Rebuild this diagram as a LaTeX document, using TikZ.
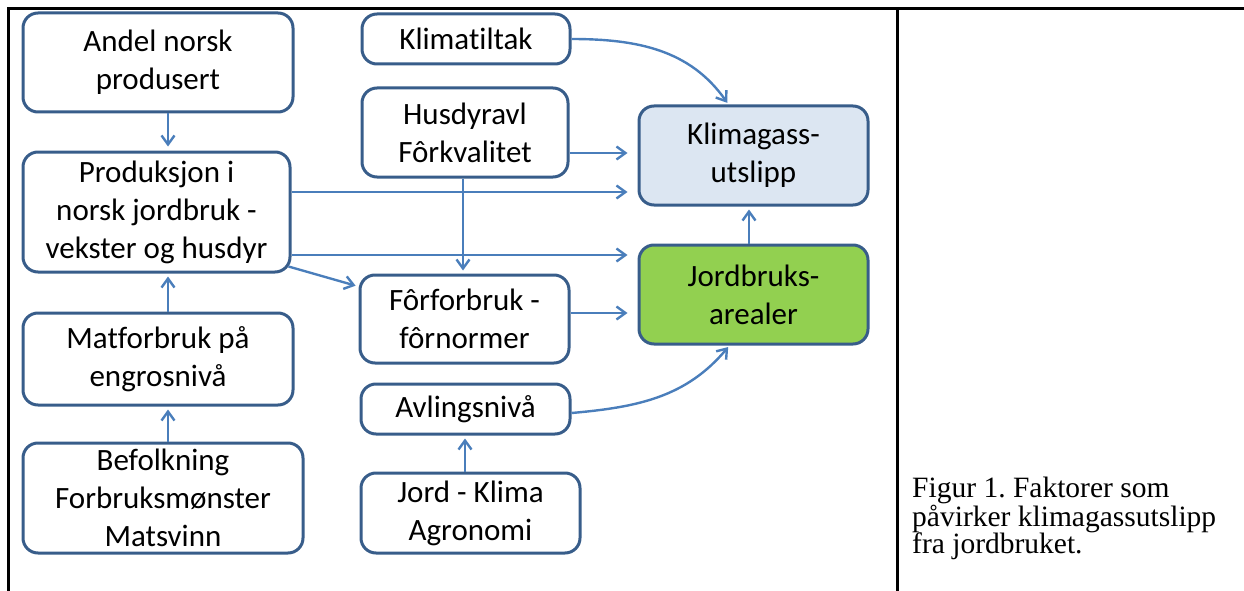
\documentclass[tikz,border=0pt]{standalone}
\usepackage{fontspec}
\setmainfont{Carlito}[Ligatures={NoCommon}]
\newfontfamily\capfont{Liberation Serif}
\usetikzlibrary{arrows.meta}
\definecolor{boxline}{HTML}{385D8A}
\definecolor{arrowc}{HTML}{4A7EBB}
\definecolor{ksfill}{HTML}{DCE6F2}
\definecolor{jbfill}{HTML}{92D050}
\frenchspacing
\begin{document}
\begin{tikzpicture}[x=1pt,y=-1pt,
  box/.style={draw=boxline, line width=3pt, rounded corners=15pt, align=center,
    inner sep=0pt, font=\fontsize{31}{38}\selectfont, text=black},
  conn/.style={draw=arrowc, line width=2.4pt, -{Straight Barb[length=9pt,width=13pt]}},
  frameline/.style={line width=3pt, black}]
\useasboundingbox (0,0) rectangle (1244,591);
\draw[frameline] (8,591) -- (8,9) -- (1244,9);
\draw[frameline] (897,9) -- (897,591);

\node[box, minimum width=270pt, minimum height=99pt] (an) at (158,62.5) {Andel norsk\\produsert};
\node[box, minimum width=267pt, minimum height=120pt] (pr) at (156.5,212) {Produksjon i\\norsk jordbruk -\\vekster og husdyr};
\node[box, minimum width=270pt, minimum height=92pt] (mf) at (158,359) {Matforbruk på\\engrosnivå};
\node[box, minimum width=280pt, minimum height=110pt] (bf) at (163,498) {Befolkning\\Forbruksmønster\\Matsvinn};
\node[box, minimum width=208pt, minimum height=50pt] (kt) at (466,39) {Klimatiltak};
\node[box, minimum width=206pt, minimum height=89pt] (hv) at (465,132.5) {Husdyravl\\Fôrkvalitet};
\node[box, minimum width=209pt, minimum height=88pt] (ff) at (464.5,319) {Fôrforbruk -\\fôrnormer};
\node[box, minimum width=209pt, minimum height=50pt] (av) at (465.5,409) {Avlingsnivå};
\node[box, minimum width=219pt, minimum height=80pt] (jk) at (470.5,513) {Jord - Klima\\Agronomi};
\node[box, fill=ksfill, minimum width=229pt, minimum height=99pt] (ks) at (753.5,155.5) {Klimagass-\\utslipp};
\node[box, fill=jbfill, minimum width=229pt, minimum height=99pt] (jb) at (753.5,294.5) {Jordbruks-\\arealer};

\node[anchor=north west, align=left, inner sep=0pt, font=\capfont\fontsize{29.5}{27.5}\selectfont] (cap) at (912,477)
  {Figur 1. Faktorer som\\påvirker klimagassutslipp\\fra jordbruket.};

% vertical arrows
\draw[conn, shorten >=4pt] (an.south -| 168,0) -- (pr.north -| 168,0);
\draw[conn, shorten >=3pt] (mf.north -| 168,0) -- (pr.south -| 168,0);
\draw[conn, shorten >=3pt] (bf.north -| 168,0) -- (mf.south -| 168,0);
\draw[conn, shorten >=3pt] (jk.north -| 465,0) -- (av.south -| 465,0);
\draw[conn, shorten >=3pt] (hv.south -| 463,0) -- (ff.north -| 463,0);
\draw[conn, shorten >=3pt] (jb.north -| 749,0) -- (ks.south -| 749,0);
% horizontal arrows
\draw[conn, shorten >=10pt] (hv.east |- 0,153) -- (ks.west |- 0,153);
\draw[conn, shorten >=10pt] (pr.east |- 0,192) -- (ks.west |- 0,192);
\draw[conn, shorten >=10pt] (pr.east |- 0,255) -- (jb.west |- 0,255);
\draw[conn, shorten >=10pt] (ff.east |- 0,313) -- (jb.west |- 0,313);
% diagonal
\draw[conn, shorten >=3pt] ([xshift=-3pt,yshift=7pt]pr.south east) -- ([yshift=-13pt]ff.north west);
% curves
\draw[conn, shorten >=2pt] (kt.east) to[out=0,in=125] ([xshift=-25pt]ks.north);
\draw[conn, shorten >=2pt] ([yshift=-4pt]av.east) to[out=5,in=230] ([xshift=-24pt]jb.south);
\end{tikzpicture}
\end{document}
